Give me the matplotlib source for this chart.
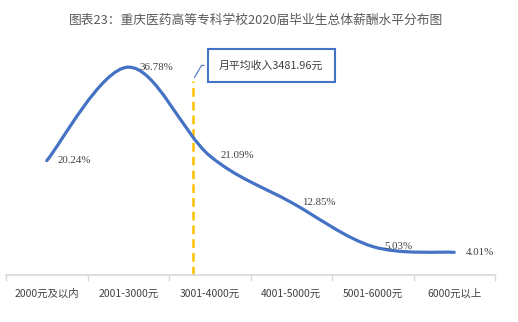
import numpy as np
import matplotlib
matplotlib.use("Agg")
import matplotlib.pyplot as plt
from matplotlib.path import Path
from matplotlib.patches import PathPatch

plt.rcParams['font.family'] = ['Noto Sans CJK SC', 'DejaVu Sans']

# data
categories = ['2000元及以内', '2001-3000元', '3001-4000元', '4001-5000元', '5001-6000元', '6000元以上']
shares = [20.24, 36.78, 21.09, 12.85, 5.03, 4.01]
mean_income = 3481.96
mean_pos = 1.795  # where the mean line sits on the category axis

blue = '#4472C4'
orange = '#FFC000'

fig = plt.figure(figsize=(5.18, 3.22), dpi=100)
ax = fig.add_axes([0.0116, 0.146, 0.944, 0.702])

# smooth line like excel (catmull-rom -> bezier)
x = np.arange(len(shares), dtype=float)
y = np.array(shares, dtype=float)
pts = np.column_stack([x, y])
verts = [pts[0]]
codes = [Path.MOVETO]
for i in range(len(pts) - 1):
    p0 = pts[i - 1] if i > 0 else pts[i]
    p1 = pts[i]
    p2 = pts[i + 1]
    p3 = pts[i + 2] if i + 2 < len(pts) else pts[i + 1]
    c1 = p1 + (p2 - p0) / 6.0
    c2 = p2 - (p3 - p1) / 6.0
    verts += [c1, c2, p2]
    codes += [Path.CURVE4] * 3
ax.add_patch(PathPatch(Path(verts, codes), fill=False, edgecolor=blue, lw=2.3, capstyle='round', zorder=3))

for xi, yi in zip(x, y):
    ax.annotate('%.2f%%' % yi, (xi, yi), xytext=(8, 0), textcoords='offset points',
                ha='left', va='center', fontsize=7.8, color='#404040',
                family=['Liberation Serif', 'DejaVu Sans'], zorder=4)

# mean line
ax.plot([mean_pos, mean_pos], [0, 34.3], color=orange, lw=1.8, ls=(0, (3.5, 2)), zorder=2)
ax.annotate('月平均收入%.2f元' % mean_income, xy=(mean_pos, 34.5), xytext=(mean_pos + 0.96, 37.1),
            ha='center', va='center', fontsize=7.8, color='#404040',
            bbox=dict(boxstyle='square,pad=1.05', fc='white', ec=blue, lw=1.5),
            arrowprops=dict(arrowstyle='-', color=blue, lw=0.8,
                            connectionstyle='angle,angleA=0,angleB=60,rad=0'))

ax.set_xlim(-0.5, len(categories) - 0.5)
ax.set_ylim(0, 40)
for s in ['top', 'right', 'left']:
    ax.spines[s].set_visible(False)
ax.spines['bottom'].set_color('#D9D9D9')
ax.spines['bottom'].set_linewidth(1.2)
ax.set_yticks([])
ax.set_xticks(x)
ax.set_xticklabels(categories, fontsize=7.5, color='#404040')
ax.tick_params(axis='x', which='major', length=0, pad=10)
ax.set_xticks(np.arange(-0.5, len(categories), 1.0), minor=True)
ax.tick_params(axis='x', which='minor', length=4, color='#D9D9D9', width=1)

fig.text(0.495, 0.938, '图表23：重庆医药高等专科学校2020届毕业生总体薪酬水平分布图',
         ha='center', va='center', fontsize=9.2, color='#595959')

fig.savefig('out.png', dpi=100)
